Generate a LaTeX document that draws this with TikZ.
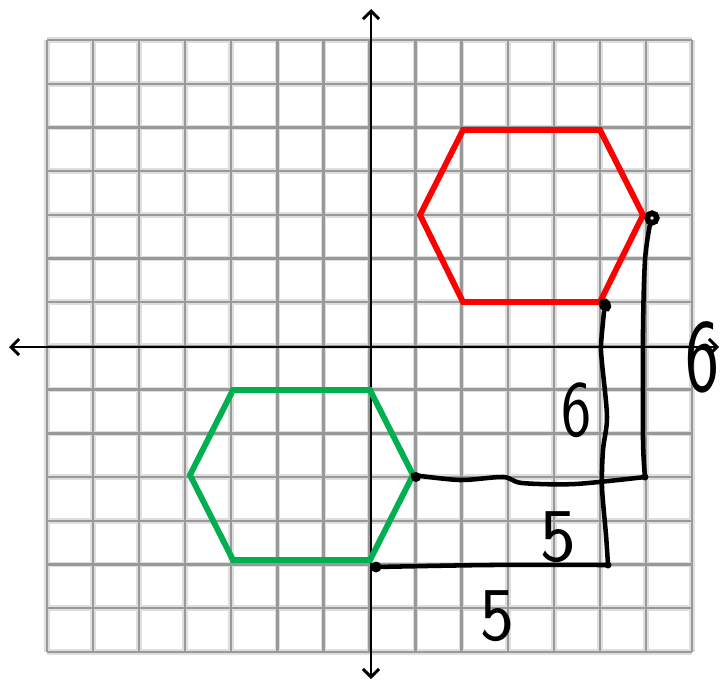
\documentclass[tikz,border=0pt]{standalone}
\usepackage{fontspec}
\usetikzlibrary{arrows.meta}
\definecolor{gridcore}{HTML}{999999}
\definecolor{gridhalo}{HTML}{DEDEDE}
\definecolor{hexred}{HTML}{FF0000}
\definecolor{hexgreen}{HTML}{00B050}
\tikzset{
  halo/.style={draw=gridhalo, line width=4.2pt},
  core/.style={draw=gridcore, line width=1.8pt},
  tip/.style={Straight Barb[length=6pt,width=12pt,line width=2.2pt]},
  axis/.style={draw=black, line width=2.2pt, {Straight Barb[length=6pt,width=12pt,line width=2.2pt]}-{Straight Barb[length=6pt,width=12pt,line width=2.2pt]}},
  hexa/.style={line width=4.4pt, line join=miter},
  hand/.style={draw=black, line width=3.4pt, line cap=round, line join=round},
  blob/.style={draw=black, line width=4.2pt},
  digit/.style={font=\sffamily\fontsize{60}{60}\selectfont, inner sep=0pt}
}
\begin{document}
\begin{tikzpicture}[x=0.75pt,y=-0.75pt]
\useasboundingbox (0,0) rectangle (724,683);
\fill[white] (0,0) rectangle (724,683);
% grid
\foreach \i in {0,...,14} {
  \draw[halo] ({47+46.07*\i},40) -- ({47+46.07*\i},652);
  \draw[halo] (47,{40+43.71*\i}) -- (692,{40+43.71*\i});
}
\foreach \i in {0,...,14} {
  \draw[core] ({47+46.07*\i},40) -- ({47+46.07*\i},652);
  \draw[core] (47,{40+43.71*\i}) -- (692,{40+43.71*\i});
}
% axes
\coordinate (yT) at (371,9);
\coordinate (yB) at (371,679);
\coordinate (xL) at (9,347);
\coordinate (xR) at (719,347);
\draw[axis] (xL) -- (xR);
\draw[axis] (yB) -- (yT);
% red hexagon
\coordinate (rL) at (420,215);
\coordinate (rTL) at (463,130);
\coordinate (rTR) at (600,130);
\coordinate (rR) at (643,215);
\coordinate (rBR) at (600,302);
\coordinate (rBL) at (463,302);
\draw[hexa, draw=hexred] (rL) -- (rTL) -- (rTR) -- (rR) -- (rBR) -- (rBL) -- cycle;
% green hexagon
\coordinate (gL) at (190,475);
\coordinate (gTL) at (233,390);
\coordinate (gTR) at (370,390);
\coordinate (gR) at (413,475);
\coordinate (gBR) at (370,560);
\coordinate (gBL) at (233,560);
\draw[hexa, draw=hexgreen] (gL) -- (gTL) -- (gTR) -- (gR) -- (gBR) -- (gBL) -- cycle;
% hand-drawn measuring lines
\coordinate (c1) at (645,477);
\coordinate (c2) at (608,565);
\draw[hand] plot[smooth, tension=0.5] coordinates {(gR) (460,480) (503,477) (522,483) (575,484) (c1)};
\draw[hand] plot[smooth, tension=0.5] coordinates {(c1) (643,440) (643,330) (645,260) (650,224)};
\draw[hand] plot[smooth, tension=0.5] coordinates {(376,567) (490,565) (c2)};
\draw[hand] plot[smooth, tension=0.5] coordinates {(c2) (606,535) (602,487) (603,450) (607,417) (602,363) (601,345) (604,312)};
% dots
\fill (416,477) circle (5);
\fill (376,567) circle (5.5);
\fill (c1) circle (3.5);
\fill (c2) circle (3.5);
\draw[blob] (652,218) circle (4.8);
\draw[blob, rotate around={30:(605,305)}] (605,305) ellipse (3 and 4.2);
% labels
\node[digit] (l6a) at (702,357) {\scalebox{0.9}[1.3]{6}};
\node[digit] (l6b) at (577,410) {\scalebox{0.8}[1]{6}};
\node[digit] (l5a) at (558,537) {\scalebox{0.95}[0.95]{5}};
\node[digit] (l5b) at (497,616) {\scalebox{0.9}[0.95]{5}};
\end{tikzpicture}
\end{document}
